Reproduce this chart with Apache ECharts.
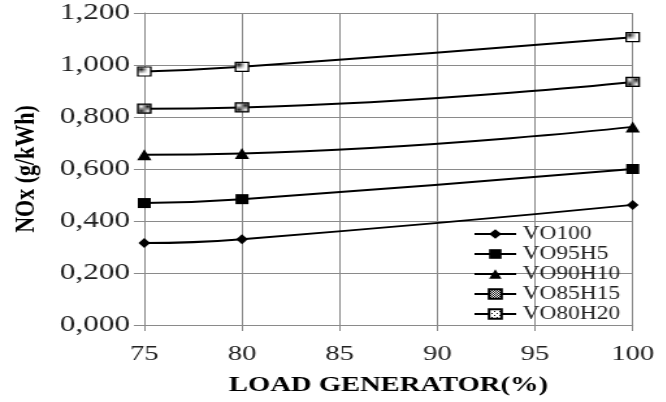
<!DOCTYPE html>
<html>
<head>
<meta charset="utf-8">
<script src="https://cdn.jsdelivr.net/npm/echarts@6/dist/echarts.min.js"></script>
<style>
html,body{margin:0;padding:0;background:#fff;overflow:hidden;}
#chart{height:402px;transform-origin:0 0;}
</style>
</head>
<body>
<div id="chart"></div>
<script>
// ---- data ----
const loads = [75, 80, 100];
const seriesNames = ['VO100', 'VO95H5', 'VO90H10', 'VO85H15', 'VO80H20'];
const vo100   = [0.315, 0.330, 0.462];
const vo95h5  = [0.469, 0.484, 0.600];
const vo90h10 = [0.655, 0.660, 0.762];
const vo85h15 = [0.832, 0.837, 0.935];
const vo80h20 = [0.975, 0.993, 1.107];
const yTicks = [0, 0.2, 0.4, 0.6, 0.8, 1.0, 1.2];
const xTicks = [75, 80, 85, 90, 95, 100];

const SX = 1.3;
const W = 666 / SX;
const el = document.getElementById('chart');
el.style.width = W + 'px';
el.style.transform = 'scaleX(' + SX + ')';

function pattern(kind) {
  const c = document.createElement('canvas');
  c.width = 4; c.height = 4;
  const g = c.getContext('2d');
  g.fillStyle = '#fff'; g.fillRect(0, 0, 4, 4);
  g.fillStyle = '#111';
  if (kind === 'diag') {
    for (let i = 0; i < 4; i++) { g.fillRect(i, 3 - i, 1, 1); g.fillRect((i + 2) % 4, 3 - i, 1, 1); }
  } else {
    g.fillRect(1, 1, 1, 1); g.fillRect(3, 3, 1, 1);
  }
  return { image: c, repeat: 'repeat' };
}

const serif = "'Liberation Serif', 'Times New Roman', serif";
const pairs = arr => loads.map((x, i) => [x, arr[i]]);
const dataSets = [vo100, vo95h5, vo90h10, vo85h15, vo80h20];
const symbols = ['diamond', 'rect', 'triangle', 'rect', 'rect'];
const sizes = [[9, 10], 10, 11, [10, 9], [10, 9]];
const fills = ['#000', '#000', '#000', pattern('diag'), pattern('cross')];

const chart = echarts.init(el);
chart.setOption({
  animation: false,
  backgroundColor: '#fff',
  grid: { left: 111, right: W - 487, top: 13, bottom: 77, containLabel: false },
  xAxis: {
    type: 'value', min: 75, max: 100, interval: 5,
    name: 'LOAD GENERATOR(%)', nameLocation: 'middle', nameGap: 49,
    nameTextStyle: { fontFamily: serif, fontWeight: 'bold', fontSize: 22, color: '#000' },
    axisLine: { show: true, lineStyle: { color: '#8a8a8a', width: 1 } },
    axisTick: { show: true, length: 6, lineStyle: { color: '#8a8a8a' } },
    axisLabel: { fontFamily: serif, fontSize: 22, color: '#222', margin: 18,
      formatter: v => xTicks.includes(v) ? String(v) : '' },
    splitLine: { show: true, lineStyle: { color: '#8a8a8a', width: 1 } }
  },
  yAxis: {
    type: 'value', min: 0, max: 1.2, interval: 0.2,
    name: 'NOx (g/kWh)', nameLocation: 'middle', nameGap: 80, nameRotate: 90,
    nameTextStyle: { fontFamily: serif, fontWeight: 'bold', fontSize: 22, color: '#000' },
    axisLine: { show: true, lineStyle: { color: '#8a8a8a', width: 1 } },
    axisTick: { show: true, length: 8, lineStyle: { color: '#8a8a8a' } },
    axisLabel: { fontFamily: serif, fontSize: 24, color: '#222', margin: 11,
      formatter: v => { const t = yTicks.find(k => Math.abs(k - v) < 1e-9); return t === undefined ? '' : t.toFixed(3).replace('.', ','); } },
    splitLine: { show: true, lineStyle: { color: '#8a8a8a', width: 1 } }
  },
  legend: {
    orient: 'vertical', left: 359, top: 220,
    itemWidth: 32, itemHeight: 12, itemGap: 2,
    textStyle: { fontFamily: serif, fontSize: 18, lineHeight: 18, color: '#222' },
    data: seriesNames
  },
  series: seriesNames.map((n, i) => ({
    name: n, type: 'line', smooth: 0.5,
    data: pairs(dataSets[i]),
    symbol: symbols[i], symbolSize: sizes[i], showSymbol: true,
    lineStyle: { color: '#000', width: 2 },
    itemStyle: { color: fills[i], borderColor: '#000', borderWidth: i >= 3 ? 1.2 : 0 },
    z: 3
  }))
});
</script>
</body>
</html>
